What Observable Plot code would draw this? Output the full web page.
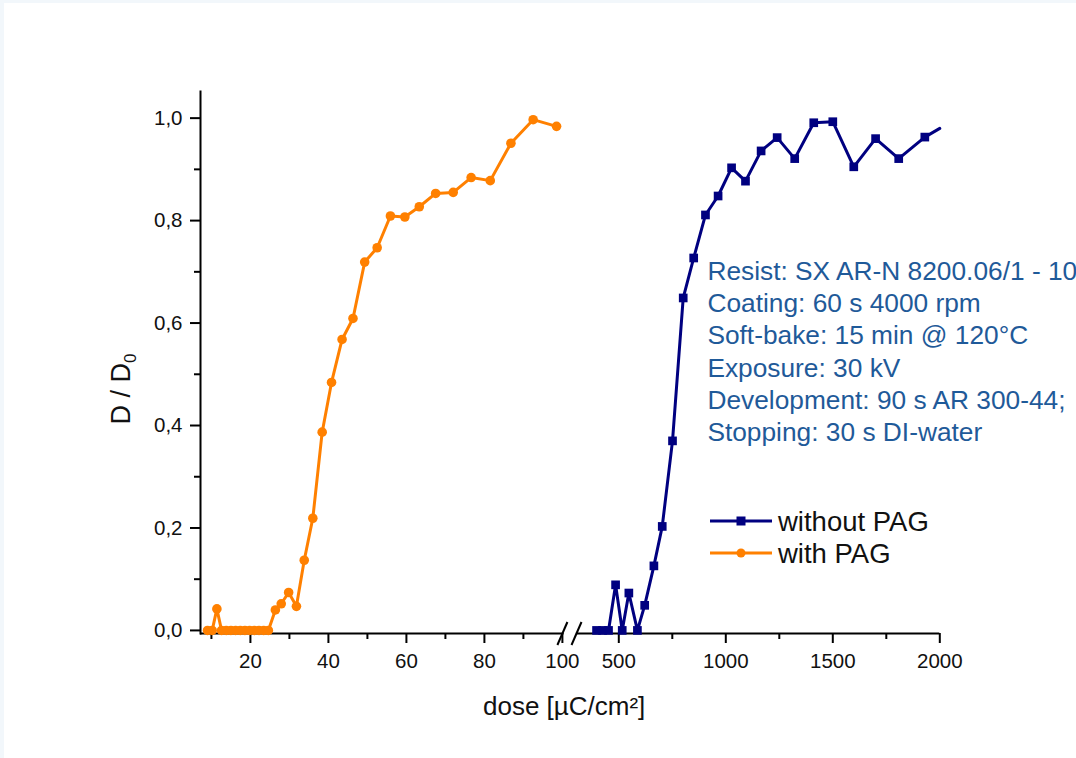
<!DOCTYPE html>
<html><head><meta charset="utf-8">
<script src="https://cdn.jsdelivr.net/npm/d3@7"></script>
<script src="https://cdn.jsdelivr.net/npm/@observablehq/plot@0.6"></script>
<style>
html,body{margin:0;padding:0;background:#fff;}
body{width:1076px;height:758px;overflow:hidden;position:relative;}
#frame{position:absolute;left:0;top:0;width:1076px;height:758px;box-sizing:border-box;border-top:3px solid #f2f7fb;border-left:4px solid #f2f7fb;}
#chart{position:absolute;left:0;top:0;}
</style></head><body><div id="frame"></div><div id="chart"></div>
<script>
// with PAG (orange)
const withDose = [9, 10.2, 11.4, 12.6, 13.8, 15, 16.2, 17.4, 18.6, 19.8, 21, 22.2, 23.4, 24.6,
  26.4, 27.9, 29.8, 31.8, 33.8, 36.0, 38.4, 40.8, 43.5, 46.3, 49.3, 52.5, 55.9, 59.6, 63.3, 67.5, 72.0, 76.6, 81.5, 86.8, 92.5, 98.5];
const withD = [0, 0, 0.042, 0, 0, 0, 0, 0, 0, 0, 0, 0, 0, 0,
  0.040, 0.052, 0.074, 0.047, 0.137, 0.219, 0.387, 0.484, 0.568, 0.609, 0.719, 0.747, 0.809, 0.807, 0.827, 0.853, 0.855, 0.884, 0.878, 0.951, 0.997, 0.984];
// without PAG (navy)
const withoutDose = [396, 424, 452, 485, 516, 547, 587, 621, 664, 703, 751, 801, 850, 905, 964, 1027, 1092, 1165, 1240, 1322, 1411, 1500, 1598, 1700, 1808, 1930, 2000];
const withoutD = [0, 0, 0, 0.089, 0, 0.073, 0, 0.049, 0.126, 0.203, 0.370, 0.649, 0.727, 0.811, 0.848, 0.903, 0.877, 0.936, 0.962, 0.921, 0.991, 0.993, 0.905, 0.960, 0.921, 0.963, 0.980];

const xMajor = [20, 40, 60, 80, 100, 500, 1000, 1500, 2000];
const xMinor = [10, 30, 50, 70, 90, 750, 1250, 1750];
const yMajor = [0, 0.2, 0.4, 0.6, 0.8, 1.0];
const yMinor = [0.1, 0.3, 0.5, 0.7, 0.9];
const seriesNames = ["without PAG", "with PAG"];
const noteLines = ["Resist: SX AR-N 8200.06/1 - 10", "Coating: 60 s 4000 rpm", "Soft-bake: 15 min @ 120°C", "Exposure: 30 kV", "Development: 90 s AR 300-44;", "Stopping: 30 s DI-water"];

const ORANGE = "#ff8000", NAVY = "#000080", NOTE = "#1f5a99";
const FONT = "'Liberation Sans', Arial, sans-serif";
const xBreak = [7.2, 101, 300, 2000];
const yDom = [-0.006, 1.052];

const withData = withDose.map((x, i) => ({x, y: withD[i]}));
const withoutData = withoutDose.map((x, i) => ({x, y: withoutD[i]}));
const fmtY = d => d.toFixed(1).replace(".", ",");

function breakMarks(index, scales) {
  const g = d3.create("svg:g").attr("stroke", "#000").attr("stroke-width", 2);
  const y0 = scales.y(yDom[0]);
  const xa = scales.x(100) + 0.5, xb = scales.x(300) + 1;
  for (const cx of [xa, xb]) {
    g.append("line").attr("x1", cx - 5).attr("y1", y0 + 12).attr("x2", cx + 5).attr("y2", y0 - 11);
  }
  return g.node();
}

function yLabel(index, scales, values, dims) {
  const t = d3.create("svg:text")
    .attr("transform", `translate(${dims.marginLeft - 70},389) rotate(-90)`)
    .attr("text-anchor", "middle").attr("font-size", 27).attr("fill", "#111")
    .attr("font-family", FONT);
  t.append("tspan").text("D / D");
  t.append("tspan").attr("font-size", 17).attr("dy", "0.35em").text("0");
  return t.node();
}

function legend(index, scales, values, dims) {
  const g = d3.create("svg:g").attr("font-family", FONT).attr("font-size", 27.5).attr("text-anchor", "start");
  const items = [{name: seriesNames[0], color: NAVY, sym: "square"}, {name: seriesNames[1], color: ORANGE, sym: "circle"}];
  items.forEach((it, i) => {
    const y = 521 + i * 32;
    g.append("line").attr("x1", 710).attr("x2", 772).attr("y1", y).attr("y2", y)
      .attr("stroke", it.color).attr("stroke-width", 3);
    if (it.sym === "square") g.append("rect").attr("x", 736.5).attr("y", y - 4.5).attr("width", 9).attr("height", 9).attr("fill", it.color);
    else g.append("circle").attr("cx", 741).attr("cy", y).attr("r", 4.5).attr("fill", it.color);
    g.append("text").attr("x", 778).attr("y", y).attr("dy", "0.35em").attr("fill", "#111").attr("text-anchor", "start").text(it.name);
  });
  return g.node();
}

const chart = Plot.plot({
  width: 1076, height: 758,
  marginLeft: 200, marginRight: 136.7, marginTop: 91, marginBottom: 125,
  style: {fontFamily: FONT, fontSize: "20.5px", color: "#111", background: "transparent", overflow: "hidden"},
  x: {type: "linear", domain: xBreak, range: [200, 565.8, 575.5, 939.3]},
  y: {domain: yDom},
  marks: [
    Plot.frame({anchor: "left", strokeWidth: 2, stroke: "#000"}),
    Plot.ruleY([yDom[0]], {x1: xBreak[0], x2: 100.4, strokeWidth: 2, stroke: "#000"}),
    Plot.ruleY([yDom[0]], {x1: 302, x2: xBreak[3], strokeWidth: 2, stroke: "#000"}),
    Plot.axisY({ticks: yMajor, tickFormat: fmtY, tickSize: 10, tickPadding: 8, label: null, strokeWidth: 2, stroke: "#000", fontSize: 20.5}),
    Plot.axisY({ticks: yMinor, tickFormat: () => "", tickSize: 6, label: null, strokeWidth: 2, stroke: "#000"}),
    Plot.axisX({ticks: xMajor, tickFormat: d => String(d), tickSize: 10, tickPadding: 10, label: null, strokeWidth: 2, stroke: "#000", fontSize: 20.5}),
    Plot.axisX({ticks: xMinor, tickFormat: () => "", tickSize: 6, label: null, strokeWidth: 2, stroke: "#000"}),
    breakMarks,
    Plot.line(withData, {x: "x", y: "y", stroke: ORANGE, strokeWidth: 3}),
    Plot.dot(withData, {x: "x", y: "y", r: 4.8, fill: ORANGE, stroke: "none"}),
    Plot.line(withoutData, {x: "x", y: "y", stroke: NAVY, strokeWidth: 3}),
    Plot.dot(withoutData.filter(d => d.x < 2000), {x: "x", y: "y", symbol: "square", r: 4.9, fill: NAVY, stroke: "none"}),
    Plot.text([noteLines.join("\n")], {x: 914, y: 0.547, text: d => d, textAnchor: "start", lineAnchor: "middle", lineHeight: 1.22, fontSize: 26.3, fill: NOTE}),
    Plot.text(["dose [µC/cm²]"], {frameAnchor: "bottom", dx: -6, dy: 73, lineAnchor: "middle", fontSize: 26, fill: "#111"}),
    yLabel,
    legend
  ]
});
document.getElementById("chart").appendChild(chart);
</script>
</body></html>
